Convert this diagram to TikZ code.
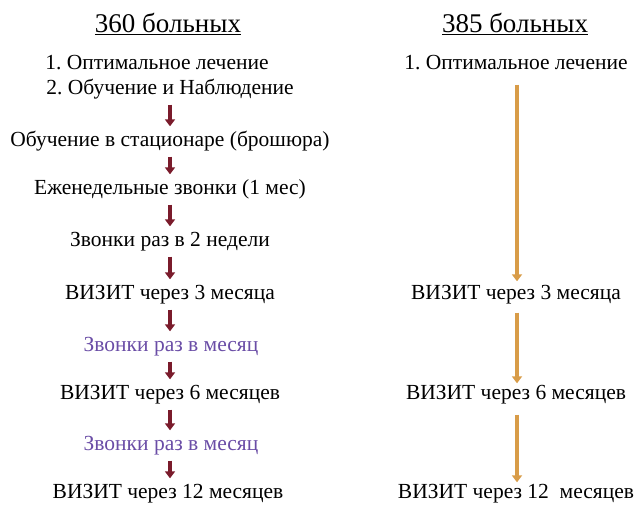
\documentclass[tikz,border=0pt]{standalone}
\usepackage{fontspec}
\setmainfont{Liberation Serif}
\frenchspacing
\usetikzlibrary{arrows.meta}
\definecolor{darkred}{HTML}{7A1B2B}
\definecolor{gold}{HTML}{D89C48}
\definecolor{violet}{HTML}{6A4DA6}
\tikzset{
  txt/.style={inner sep=0pt, font=\fontsize{21.5}{24}\selectfont, text height=14pt, text depth=5pt},
  ttl/.style={inner sep=0pt, font=\fontsize{27}{30}\selectfont},
  purp/.style={txt, text=violet},
  redarr/.style={draw=darkred, line width=4.5pt, -{Triangle[width=10pt,length=7pt]}, shorten <=5pt, shorten >=6pt},
  goldarr/.style={draw=gold, line width=4.5pt, -{Triangle[width=10pt,length=7pt]}}
}
\begin{document}
\begin{tikzpicture}[x=1pt,y=1pt]
\useasboundingbox (0,0) rectangle (639,-508);
% left column
\node[ttl] (t1) at (168,-24) {\underline{360 больных}};
\node[txt] (a1) at (157,-65) {1. Оптимальное лечение};
\node[txt] (a2) at (170,-90) {2. Обучение и Наблюдение};
\node[txt] (a3) at (170,-142) {Обучение в стационаре (брошюра)};
\node[txt] (a4) at (170,-190) {Еженедельные звонки (1 мес)};
\node[txt] (a5) at (170,-242) {Звонки раз в 2 недели};
\node[txt] (a6) at (170,-295) {ВИЗИТ через 3 месяца};
\node[purp] (a7) at (171,-347) {Звонки раз в месяц};
\node[txt] (a8) at (170,-395) {ВИЗИТ через 6 месяцев};
\node[purp] (a9) at (171,-446) {Звонки раз в месяц};
\node[txt] (a10) at (168,-494) {ВИЗИТ через 12 месяцев};
\draw[redarr] (a2.south -| 170,0) -- (a3.north -| 170,0);
\draw[redarr] (a3.south -| 170,0) -- (a4.north -| 170,0);
\draw[redarr] (a4.south -| 170,0) -- (a5.north -| 170,0);
\draw[redarr] (a5.south -| 170,0) -- (a6.north -| 170,0);
\draw[redarr] (a6.south -| 170,0) -- (a7.north -| 170,0);
\draw[redarr] (a7.south -| 170,0) -- (a8.north -| 170,0);
\draw[redarr] (a8.south -| 170,0) -- (a9.north -| 170,0);
\draw[redarr] (a9.south -| 170,0) -- (a10.north -| 170,0);
% right column
\node[ttl] (t2) at (515,-24) {\underline{385 больных}};
\node[txt] (b1) at (516,-65) {1. Оптимальное лечение};
\node[txt] (b2) at (516,-295) {ВИЗИТ через 3 месяца};
\node[txt] (b3) at (516,-395) {ВИЗИТ через 6 месяцев};
\node[txt] (b4) at (516,-494) {ВИЗИТ через 12\ \ месяцев};
\draw[goldarr, shorten <=10pt, shorten >=4pt] (b1.south -| 517,0) -- (b2.north -| 517,0);
\draw[goldarr, shorten <=8pt, shorten >=2pt] (b2.south -| 517,0) -- (b3.north -| 517,0);
\draw[goldarr, shorten <=10pt, shorten >=2pt] (b3.south -| 517,0) -- (b4.north -| 517,0);
\end{tikzpicture}
\end{document}
